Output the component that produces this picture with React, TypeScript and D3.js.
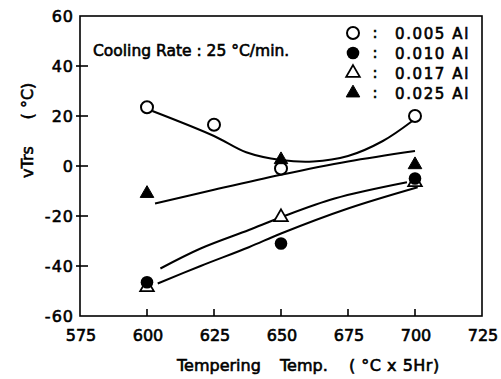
import React from "react";
import * as d3 from "d3";

// measured points (Tempering temp °C, vTrs °C)
const temps = [600, 625, 650, 700];
const al005 = [23.5, 16.5, -1, 20];
const al010 = [-46.5, -31, -5];
const al017 = [-48.5, -20.5, -6.5];
const al025 = [-11, 2.5, 0.5];
const temps3 = [600, 650, 700];

// fitted curves as drawn in the figure
const curve005 = [[602, 22], [625, 12], [637, 5.5], [650, 2.4], [662, 1.8], [675, 4], [688, 10], [699, 18]];
const curve025 = [[603, -15], [625, -9.5], [650, -3.5], [675, 1.8], [700, 6]];
const curve017 = [[605, -41], [620, -33], [638, -25.6], [650, -20.5], [670, -13], [697, -6.5]];
const curve010 = [[604, -47], [620, -40], [638, -32.5], [650, -27], [675, -17], [701, -8.5]];

const xTicks = [575, 600, 625, 650, 675, 700, 725];
const yTicks = [-60, -40, -20, 0, 20, 40, 60];
const legendLabels = ["0.005 Al", "0.010 Al", "0.017 Al", "0.025 Al"];

const font = "'DejaVu Sans', sans-serif";

const Marker = ({ kind, cx, cy }) => {
  if (kind === "oc")
    return <circle cx={cx} cy={cy} r={6} fill="white" stroke="black" strokeWidth={2} />;
  if (kind === "fc") return <circle cx={cx} cy={cy} r={6.3} fill="black" />;
  const tri = d3.symbol().type(d3.symbolTriangle).size(80)();
  return (
    <path
      d={tri}
      transform={`translate(${cx},${cy})`}
      fill={kind === "ft" ? "black" : "white"}
      stroke="black"
      strokeWidth={kind === "ft" ? 1 : 1.8}
    />
  );
};

const Chart = () => {
  const width = 501;
  const height = 379;
  const x = d3.scaleLinear().domain([575, 725]).range([80, 482]);
  const y = d3.scaleLinear().domain([-60, 60]).range([316, 16]);
  const line = d3
    .line()
    .x((d) => x(d[0]))
    .y((d) => y(d[1]))
    .curve(d3.curveCatmullRom);

  const txt = { fontFamily: font, fill: "black", stroke: "black", strokeWidth: 0.6 };

  const series = [
    { kind: "oc", xs: temps, ys: al005 },
    { kind: "ot", xs: temps3, ys: al017 },
    { kind: "fc", xs: temps3, ys: al010 },
    { kind: "ft", xs: temps3, ys: al025 },
  ];

  return (
    <svg width={width} height={height} style={{ display: "block" }}>
      <rect width={width} height={height} fill="white" />
      {/* frame */}
      <rect x={80} y={16} width={402} height={300} fill="none" stroke="black" strokeWidth={1.6} />
      {/* x ticks, inward */}
      {xTicks.slice(1, -1).map((t) => (
        <line key={t} x1={x(t)} x2={x(t)} y1={y(-60)} y2={y(-60) - 7} stroke="black" strokeWidth={1.6} />
      ))}
      {xTicks.map((t) => (
        <text key={t} x={x(t) + 1} y={341} textAnchor="middle" fontSize={16} {...txt}>
          {t}
        </text>
      ))}
      {/* y ticks */}
      {yTicks.slice(1, -1).map((t) => (
        <line key={t} x1={76} x2={88} y1={y(t)} y2={y(t)} stroke="black" strokeWidth={1.6} />
      ))}
      {yTicks.map((t) => (
        <text key={t} x={74} y={y(t) + 6} textAnchor="end" fontSize={16} letterSpacing={1} {...txt}>
          {t < 0 ? "-" + Math.abs(t) : t}
        </text>
      ))}
      {/* axis titles */}
      <text x={177} y={371} fontSize={16} {...txt}>Tempering</text>
      <text x={280} y={371} fontSize={16} {...txt}>Temp.</text>
      <text x={349} y={371} fontSize={16} letterSpacing={0.5} {...txt}>( °C x 5Hr)</text>
      <text transform="translate(33,162) rotate(-90)" textAnchor="middle" fontSize={16} {...txt}>vTrs</text>
      <text transform="translate(33,101) rotate(-90)" textAnchor="middle" fontSize={16} {...txt}>( °C)</text>
      <text x={93} y={56} fontSize={15.5} {...txt}>Cooling Rate : 25 °C/min.</text>

      {/* curves */}
      {[curve005, curve025, curve017, curve010].map((c, i) => (
        <path key={i} d={line(c)} fill="none" stroke="black" strokeWidth={2} />
      ))}

      {/* points */}
      {series.map((s) =>
        s.ys.map((v, i) => <Marker key={s.kind + i} kind={s.kind} cx={x(s.xs[i])} cy={y(v)} />)
      )}

      {/* legend */}
      {["oc", "fc", "ot", "ft"].map((k, i) => (
        <g key={k}>
          <Marker kind={k} cx={353} cy={33 + i * 20} />
          <text x={375} y={38 + i * 20} textAnchor="middle" fontSize={15} {...txt}>:</text>
          <text x={395} y={39 + i * 20} fontSize={15} letterSpacing={1.6} {...txt}>
            {legendLabels[i]}
          </text>
        </g>
      ))}
    </svg>
  );
};

export default function App() {
  return (
    <div style={{ position: "absolute", left: 0, top: 0 }}>
      <Chart />
    </div>
  );
}
